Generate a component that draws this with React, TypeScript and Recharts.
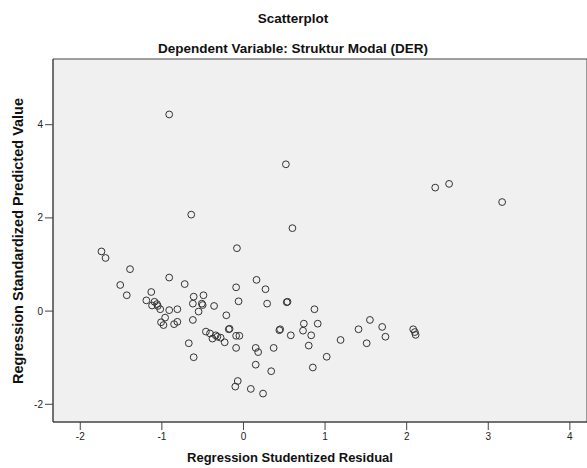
import React from "react";
import { ScatterChart, Scatter, XAxis, YAxis, ReferenceArea } from "recharts";

const residuals: number[] = [
  -0.91, 0.52, -0.64, 0.60, -0.08, 2.35, 2.52, 3.17,
  -1.74, -1.69, -1.39, -1.51, -1.43, -0.91, -0.72, -1.13, -1.19, -1.09, -1.12, -1.06, -1.05, -1.02,
  -0.91, -0.81, -0.96, -1.01, -0.98, -0.85, -0.81, -0.61, -0.49, -0.62, -0.51, -0.50, -0.55, -0.36,
  -0.21, -0.62, -0.46, -0.41, -0.38, -0.34, -0.32, -0.28, -0.23, -0.18, -0.17, -0.67, -0.61,
  -0.09, -0.06, -0.09, -0.05, -0.09, -0.07, -0.10,
  0.16, 0.27, 0.29, 0.53, 0.54, 0.87, 0.74, 0.91, 0.44, 0.45, 0.73, 0.58, 0.83, 1.41, 1.55, 1.70, 1.74,
  1.19, 1.51, 2.08, 2.10, 2.11, 0.15, 0.18, 0.37, 0.80, 1.02, 0.15, 0.34, 0.85, 0.09, 0.24,
];
const predicted: number[] = [
  4.22, 3.15, 2.07, 1.78, 1.35, 2.65, 2.73, 2.34,
  1.28, 1.14, 0.90, 0.56, 0.34, 0.72, 0.58, 0.41, 0.23, 0.20, 0.12, 0.15, 0.11, 0.04,
  0.02, 0.04, -0.14, -0.24, -0.30, -0.28, -0.23, 0.31, 0.34, 0.16, 0.16, 0.13, -0.01, 0.11,
  -0.09, -0.19, -0.44, -0.48, -0.59, -0.52, -0.55, -0.57, -0.67, -0.39, -0.38, -0.69, -0.99,
  0.51, 0.21, -0.53, -0.53, -0.79, -1.50, -1.62,
  0.67, 0.47, 0.16, 0.19, 0.20, 0.04, -0.27, -0.27, -0.41, -0.39, -0.42, -0.52, -0.52, -0.39, -0.19, -0.34, -0.55,
  -0.62, -0.69, -0.39, -0.45, -0.51, -0.79, -0.88, -0.79, -0.74, -0.98, -1.15, -1.29, -1.21, -1.67, -1.77,
];

const xTicks = [-2, -1, 0, 1, 2, 3, 4];
const yTicks = [-2, 0, 2, 4];
const xDomain: [number, number] = [-2.334, 4.21];
const yDomain: [number, number] = [-2.38, 5.41];

const data = residuals.map((x, i) => ({ x, y: predicted[i] }));

const FONT = "'Liberation Sans', Arial, sans-serif";

const Ring = (props: any) => (
  <circle cx={props.cx} cy={props.cy} r={3.4} fill="none" stroke="#333" strokeWidth={1} />
);

export default function App() {
  return (
    <div style={{ position: "absolute", left: 0, top: 0, width: 587, height: 468, background: "#fff" }}>
      <ScatterChart width={587} height={468} margin={{ top: 59, right: 0, bottom: 16, left: 0 }}>
        <XAxis
          type="number"
          dataKey="x"
          domain={xDomain}
          ticks={xTicks}
          allowDataOverflow
          height={30}
          axisLine={{ stroke: "#444" }}
          tickLine={{ stroke: "#444" }}
          tickSize={8}
          tickMargin={3}
          tick={{ fontSize: 10, fill: "#222", fontFamily: FONT }}
        />
        <YAxis
          type="number"
          dataKey="y"
          domain={yDomain}
          ticks={yTicks}
          allowDataOverflow
          width={53}
          axisLine={{ stroke: "#444" }}
          tickLine={{ stroke: "#444" }}
          tickSize={8}
          tickMargin={2}
          tick={{ fontSize: 10, fill: "#222", fontFamily: FONT }}
        />
        <ReferenceArea
          x1={xDomain[0]}
          x2={xDomain[1]}
          y1={yDomain[0]}
          y2={yDomain[1]}
          fill="#f0f0f0"
          fillOpacity={1}
          stroke="#444"
          strokeWidth={1}
          ifOverflow="visible"
        />
        <Scatter data={data} shape={Ring} isAnimationActive={false} />
      </ScatterChart>
      <svg
        width={587}
        height={468}
        style={{ position: "absolute", left: 0, top: 0, pointerEvents: "none" }}
      >
        <g fontFamily={FONT} fontWeight="bold" fill="#111" textAnchor="middle">
          <text x={293} y={22.5} fontSize={13.5}>Scatterplot</text>
          <text x={293} y={52.5} fontSize={13.5}>Dependent Variable: Struktur Modal (DER)</text>
          <text x={290} y={462} fontSize={13}>Regression Studentized Residual</text>
          <text transform="translate(23,241) rotate(-90)" fontSize={14.5}>
            Regression Standardized Predicted Value
          </text>
        </g>
      </svg>
    </div>
  );
}
